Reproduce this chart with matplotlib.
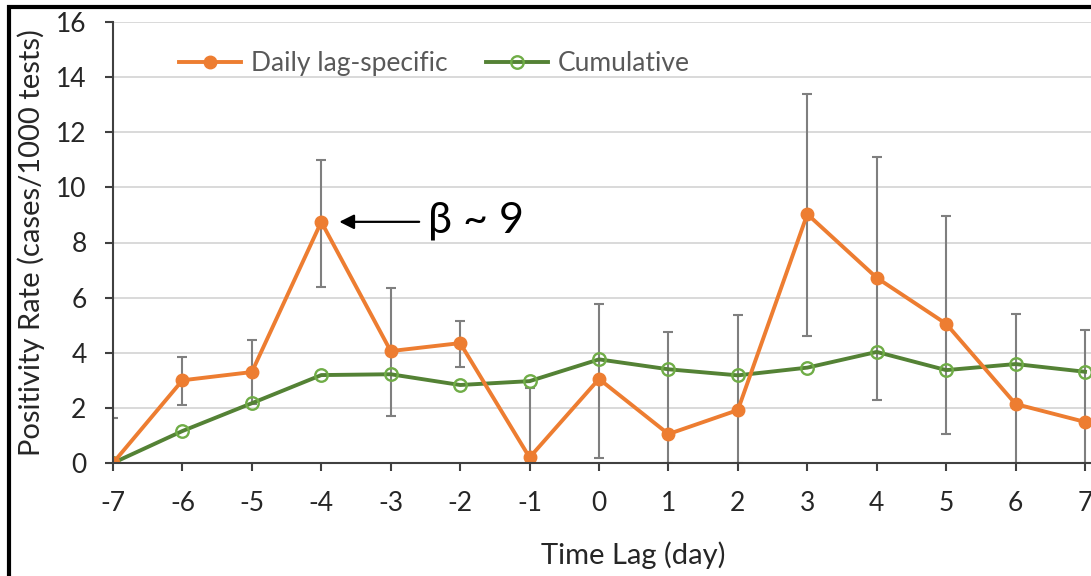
import matplotlib
matplotlib.use("Agg")
import matplotlib.pyplot as plt
from matplotlib.lines import Line2D
import numpy as np

plt.rcParams['font.family'] = ['Lato', 'DejaVu Sans']

# Time lag (days) and positivity rates (cases / 1000 tests)
lags = [-7, -6, -5, -4, -3, -2, -1, 0, 1, 2, 3, 4, 5, 6, 7]
daily = [0.0, 3.0, 3.3, 8.75, 4.06, 4.35, 0.2, 3.05, 1.05, 1.92, 9.03, 6.72, 5.05, 2.14, 1.49]
daily_lower = [0.0, 2.1, 2.15, 6.39, 1.7, 3.48, 0.0, 0.18, 0.0, 0.0, 4.61, 2.29, 1.05, 0.0, 0.0]
daily_upper = [1.63, 3.85, 4.46, 11.0, 6.35, 5.15, 2.72, 5.77, 4.77, 5.37, 13.39, 11.1, 8.96, 5.41, 4.83]
cumulative = [0.0, 1.16, 2.17, 3.19, 3.22, 2.83, 2.97, 3.76, 3.4, 3.18, 3.46, 4.03, 3.37, 3.59, 3.31]
y_ticks = [0, 2, 4, 6, 8, 10, 12, 14, 16]

W, H = 1091, 576
fig = plt.figure(figsize=(W / 100, H / 100), dpi=100)
ax = fig.add_axes([113 / W, 1 - 463 / H, (W - 113) / W, (463 - 22) / H])

orange = '#ED7D31'
green = '#548235'
green_light = '#70AD47'
axis_col = '#404040'
text_col = '#262626'

yerr = [np.array(daily) - np.array(daily_lower), np.array(daily_upper) - np.array(daily)]
ax.errorbar(lags, daily, yerr=yerr, fmt='none', ecolor='#7F7F7F',
            elinewidth=1.5, capsize=3.8, capthick=1.5, zorder=2)

ax.plot(lags, cumulative, color=green, lw=2.8, marker='o', ms=9,
        mfc='none', mec=green_light, mew=1.7, zorder=3, label='Cumulative')
ax.plot(lags, daily, color=orange, lw=2.8, marker='o', ms=9,
        mfc=orange, mec=orange, zorder=4, label='Daily lag-specific')

ax.set_xlim(-7, 7 + 6 / 69.5)
ax.set_ylim(0, 16)
ax.set_xticks(lags)
ax.set_xticklabels([str(v) for v in lags])
ax.set_yticks(y_ticks)
ax.grid(axis='y', color='#D9D9D9', lw=1.4, zorder=0)
ax.set_axisbelow(True)

for side in ('top', 'right'):
    ax.spines[side].set_visible(False)
for side in ('left', 'bottom'):
    ax.spines[side].set_color(axis_col)
    ax.spines[side].set_linewidth(1.5)
    ax.spines[side].set_zorder(5)

ax.tick_params(axis='y', direction='out', length=6, width=1.5, color=axis_col,
               labelsize=19, labelcolor=text_col, pad=13)
ax.tick_params(axis='x', direction='out', length=6, width=1.5, color=axis_col,
               labelsize=19, labelcolor=text_col, pad=14)

ax.set_xlabel('Time Lag (day)', fontsize=21, color=text_col)
ax.xaxis.set_label_coords((633 - 113) / (W - 113), -(555 - 463) / (463 - 22))
ax.xaxis.label.set_va('center')
ax.set_ylabel('Positivity Rate (cases/1000 tests)', fontsize=21, color=text_col, labelpad=8)

handles, labels = ax.get_legend_handles_labels()
leg = ax.legend(handles[::-1], labels[::-1], loc='upper left', ncol=2,
                bbox_to_anchor=(0.043, 0.988), frameon=False, fontsize=19,
                handlelength=2.35, columnspacing=1.45, handletextpad=0.38)
for t in leg.get_texts():
    t.set_color('#595959')

# Annotation of the peak at lag -4
ax.annotate('', xy=(-4 + 0.22, daily[3]), xytext=(-2.55, daily[3]),
            arrowprops=dict(arrowstyle='-|>', color='black', lw=1.6,
                            mutation_scale=22), zorder=6)
ax.text(-2.47, daily[3] + 0.05, 'β ~ 9', fontsize=31, color='black',
        va='center', ha='left')

# Black frame lines along the top and left edges
fig.add_artist(Line2D([9 / W, 9 / W], [0, 1 - 5 / H], transform=fig.transFigure,
                      color='black', lw=3.0, solid_capstyle='butt'))
fig.add_artist(Line2D([7 / W, 1], [1 - 7 / H, 1 - 7 / H], transform=fig.transFigure,
                      color='black', lw=3.0, solid_capstyle='butt'))

fig.savefig('out.png', dpi=100)
